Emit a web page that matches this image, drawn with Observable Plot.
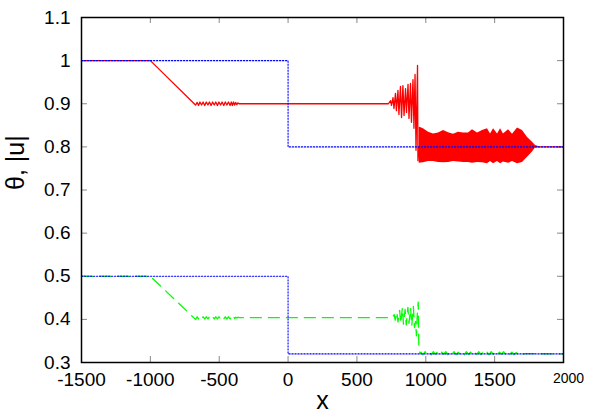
<!DOCTYPE html>
<html>
<head>
<meta charset="utf-8">
<script src="https://cdn.jsdelivr.net/npm/d3@7"></script>
<script src="https://cdn.jsdelivr.net/npm/@observablehq/plot@0.6"></script>
<style>
  html, body { margin: 0; padding: 0; background: white; }
</style>
</head>
<body>
<div id="chart"></div>
<script>
// ---- data ----
const xTicks = [-1500, -1000, -500, 0, 500, 1000, 1500, 2000];
const yTicks = [0.3, 0.4, 0.5, 0.6, 0.7, 0.8, 0.9, 1.0, 1.1];
const xLabel = "x";
const yLabel = "θ, |u|";

// blue dotted reference steps
const blueX = [-1500, 0, 0, 2000];
const blueUpperY = [1.0, 1.0, 0.8, 0.8];
const blueLowerY = [0.5, 0.5, 0.32, 0.32];

// red solid curve
const redX = [-1500, -1000, -672,
  -660, -650, -640, -628, -617, -605, -594, -582, -571, -559, -548, -536, -525, -513,
  -502, -490, -479, -467, -456, -444, -433, -421, -412, -404, -396, -388, -380, -372, -364, -356,
  729, 744, 751, 762, 769, 780, 787, 798, 805, 816, 824, 834, 842, 853, 860, 871, 878,
  889, 896, 907, 914, 922, 929, 940, 943, 952, 1800, 2000];
const redY = [1.0, 1.0, 0.897,
  0.903, 0.896, 0.904, 0.897, 0.904, 0.896, 0.904, 0.897, 0.904, 0.896, 0.904, 0.897, 0.904, 0.896,
  0.904, 0.897, 0.904, 0.896, 0.904, 0.897, 0.904, 0.896, 0.904, 0.896, 0.904, 0.897, 0.903, 0.898, 0.902, 0.900,
  0.900, 0.907, 0.896, 0.914, 0.889, 0.924, 0.884, 0.931, 0.875, 0.940, 0.868, 0.942, 0.873, 0.935, 0.880, 0.945, 0.866,
  0.947, 0.857, 0.956, 0.843, 0.968, 0.792, 0.989, 0.768, 0.800, 0.800, 0.800];

// dense red oscillation band (envelope)
const bandX = [952, 983, 1020, 1056, 1092, 1129, 1165, 1201, 1238, 1274, 1310, 1339, 1376, 1412,
  1448, 1470, 1492, 1521, 1543, 1564, 1601, 1630, 1666, 1702, 1739, 1775, 1797, 1820];
const bandUpper = [0.846, 0.842, 0.834, 0.830, 0.832, 0.838, 0.833, 0.829, 0.834, 0.832, 0.832, 0.840, 0.832, 0.838,
  0.842, 0.830, 0.842, 0.830, 0.842, 0.830, 0.840, 0.829, 0.844, 0.838, 0.822, 0.811, 0.803, 0.801];
const bandLower = [0.762, 0.763, 0.766, 0.766, 0.764, 0.763, 0.764, 0.766, 0.765, 0.764, 0.764, 0.762, 0.764, 0.763,
  0.761, 0.766, 0.761, 0.766, 0.761, 0.765, 0.762, 0.766, 0.761, 0.764, 0.776, 0.788, 0.798, 0.799];

// green dashed curve
const greenX = [-1500, -1000, -672,
  -660, -650, -640, -628, -617, -605, -594, -582, -571, -559, -548, -536, -525, -513,
  -502, -490, -479, -467, -456, -444, -433, -421, -412, -404, -396, -388, -380, -372, -364, -356,
  756, 770, 778, 790, 798, 810, 818, 830, 838, 850, 858, 870, 878, 890, 898, 910, 918, 926, 932, 938, 945, 950, 958,
  965, 980, 995, 1010, 1025, 1040, 1055, 1070, 1085, 1100, 1115, 1130, 1145, 1160, 1175, 1190, 1205, 1220,
  1235, 1250, 1265, 1280, 1295, 1310, 1325, 1340, 1355, 1370, 1385, 1400, 1415, 1430, 1445, 1460, 1475, 1490,
  1505, 1520, 1535, 1550, 1565, 1580, 1595, 1610, 1625, 1640, 1655, 1670, 1685, 1700, 1720, 2000];
const greenY = [0.5, 0.5, 0.400,
  0.406, 0.401, 0.406, 0.401, 0.406, 0.401, 0.406, 0.401, 0.406, 0.401, 0.406, 0.401, 0.406, 0.401,
  0.406, 0.401, 0.406, 0.401, 0.406, 0.401, 0.406, 0.401, 0.406, 0.402, 0.406, 0.402, 0.405, 0.403, 0.405, 0.404,
  0.404, 0.411, 0.398, 0.417, 0.394, 0.421, 0.391, 0.427, 0.389, 0.423, 0.387, 0.428, 0.391, 0.426, 0.385, 0.430, 0.381, 0.395, 0.362, 0.410, 0.440, 0.330, 0.321,
  0.324, 0.318, 0.325, 0.319, 0.324, 0.318, 0.325, 0.319, 0.324, 0.318, 0.324, 0.319, 0.325, 0.318, 0.324, 0.319, 0.325, 0.318,
  0.324, 0.319, 0.324, 0.318, 0.325, 0.319, 0.324, 0.318, 0.324, 0.319, 0.325, 0.318, 0.324, 0.319, 0.324, 0.318, 0.325, 0.319,
  0.324, 0.318, 0.324, 0.319, 0.325, 0.318, 0.324, 0.319, 0.324, 0.318, 0.323, 0.319, 0.322, 0.319, 0.3205, 0.320];

// ---- layout ----
const W = 593, H = 415;
const mL = 81, mR = 30, mT = 17, mB = 53;
const innerW = W - mL - mR, innerH = H - mT - mB;
const tickLen = 6;
const fmt = d => String(d);

const chart = Plot.plot({
  width: W,
  height: H,
  marginLeft: mL,
  marginRight: mR,
  marginTop: mT,
  marginBottom: mB,
  style: {fontFamily: "'Liberation Sans', Arial, sans-serif", background: "white", color: "black"},
  x: {domain: [xTicks[0], xTicks[xTicks.length - 1]]},
  y: {domain: [yTicks[0], yTicks[yTicks.length - 1]]},
  marks: [
    // inward ticks (mirrored on all four sides)
    Plot.ruleY(yTicks, {y: d => d, insetRight: innerW - tickLen, stroke: "#888"}),
    Plot.ruleY(yTicks, {y: d => d, insetLeft: innerW - tickLen, stroke: "#888"}),
    Plot.ruleX(xTicks, {x: d => d, insetTop: innerH - tickLen, stroke: "#888"}),
    Plot.ruleX(xTicks, {x: d => d, insetBottom: innerH - tickLen, stroke: "#888"}),
    // data
    Plot.areaY(bandX, {x: bandX, y1: bandLower, y2: bandUpper, fill: "#ff0000"}),
    Plot.line(redX, {x: redX, y: redY, stroke: "#ff0000", strokeWidth: 1.3}),
    Plot.line(greenX, {x: greenX, y: greenY, stroke: "#00ff00", strokeWidth: 1.3, strokeDasharray: "11,7"}),
    Plot.line(blueX, {x: blueX, y: blueUpperY, stroke: "#0000ff", strokeWidth: 1.1, strokeDasharray: "1.3,1.7"}),
    Plot.line(blueX, {x: blueX, y: blueLowerY, stroke: "#0000ff", strokeWidth: 1.1, strokeDasharray: "1.3,1.7"}),
    Plot.frame({stroke: "black", strokeWidth: 1.5}),
    // tick labels
    Plot.axisY(yTicks, {tickSize: 0, tickPadding: 11, fontSize: 19, tickFormat: fmt, label: null}),
    Plot.axisX(xTicks.slice(0, -1), {tickSize: 0, tickPadding: 10, fontSize: 19, tickFormat: fmt, label: null}),
    Plot.text(xTicks.slice(-1), {x: d => d, text: fmt, frameAnchor: "bottom", dy: 16, dx: 5, lineAnchor: "middle", fontSize: 14}),
    // axis titles
    Plot.text([xLabel], {text: d => d, frameAnchor: "bottom", dy: 46, lineAnchor: "bottom", fontSize: 25}),
    Plot.text([yLabel], {text: d => d, frameAnchor: "left", dx: -58, rotate: -90, lineAnchor: "bottom", fontSize: 25})
  ]
});
document.getElementById("chart").appendChild(chart);
</script>
</body>
</html>
